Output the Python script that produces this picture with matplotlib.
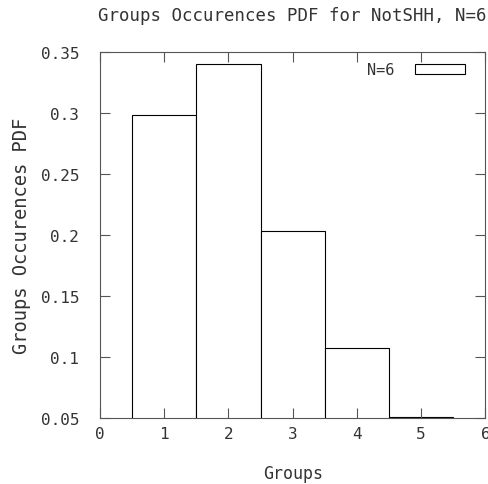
import matplotlib
matplotlib.use("Agg")
import matplotlib.pyplot as plt
import numpy as np

groups = [1, 2, 3, 4, 5]
pdf = [0.298, 0.340, 0.203, 0.107, 0.051]
xticks = [0, 1, 2, 3, 4, 5, 6]
yticks = [0.05, 0.1, 0.15, 0.2, 0.25, 0.3, 0.35]
ytick_labels = ["0.05", "0.1", "0.15", "0.2", "0.25", "0.3", "0.35"]

plt.rcParams['font.family'] = ['DejaVu Sans Mono']
txt = '#333333'

fig = plt.figure(figsize=(4.89, 4.85), dpi=100)
ax = fig.add_axes([0.2045, 0.136, 0.788, 0.755])

ax.bar(groups, pdf, width=1.0, bottom=0, facecolor='white', edgecolor='black',
       linewidth=0.8, label='N=6')

ax.set_xlim(0, 6)
ax.set_ylim(0.05, 0.35)
ax.set_xticks(xticks)
ax.set_yticks(yticks)
ax.set_yticklabels(ytick_labels)
ax.tick_params(direction='in', top=True, right=True, length=7, width=0.8,
               color='#555555', labelsize=11.5, labelcolor=txt)
ax.tick_params(axis='x', pad=6)
ax.tick_params(axis='y', pad=15)
for s in ax.spines.values():
    s.set_color('#555555')
    s.set_linewidth(0.8)

ax.set_title('Groups Occurences PDF for NotSHH, N=6', fontsize=12.5, color=txt, pad=23)
ax.set_xlabel('Groups', fontsize=12, color=txt, labelpad=16)
ax.set_ylabel('Groups Occurences PDF', fontsize=13.5, color=txt, labelpad=7)

ax.legend(loc='upper right', bbox_to_anchor=(1 - 8 / 385, 1.005), frameon=False,
          markerfirst=False, fontsize=11,
          handlelength=3.3, handleheight=0.6, handletextpad=1.3,
          borderaxespad=0.4, labelcolor=txt)

fig.savefig('out.png', dpi=100)
